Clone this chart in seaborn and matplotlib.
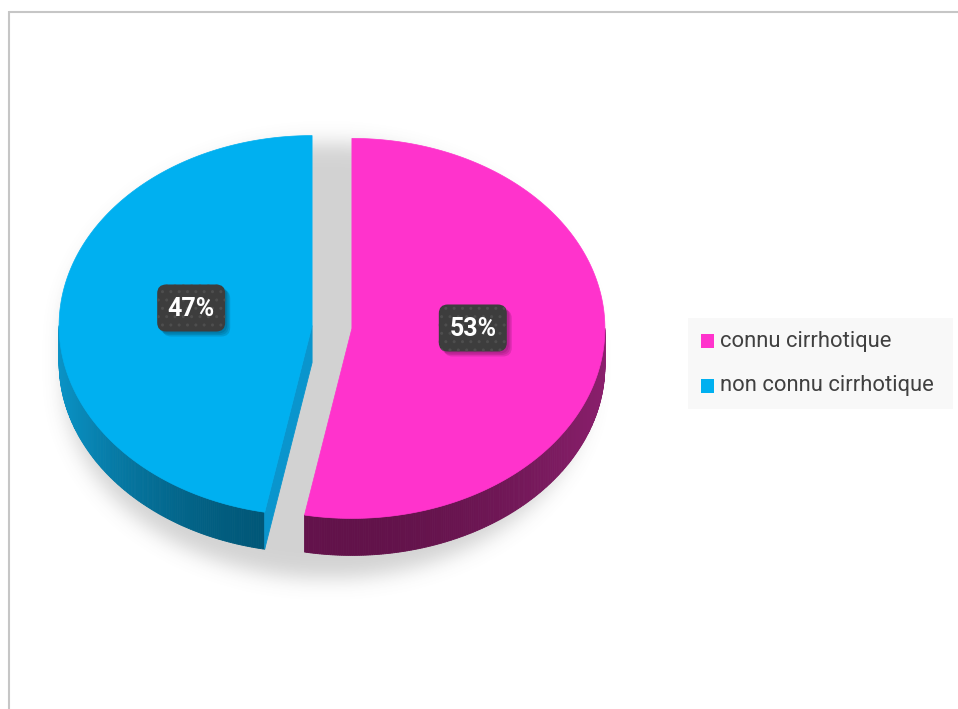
import numpy as np
import matplotlib
matplotlib.use("Agg")
import matplotlib.pyplot as plt
from matplotlib.patches import Polygon, Rectangle, FancyBboxPatch
import seaborn as sns

# ---- data ----
categories = ["connu cirrhotique", "non connu cirrhotique"]
values = [53, 47]
value_labels = ["53%", "47%"]
top_colors = ["#ff33cc", "#00b0f0"]
# wall shading: (light end, dark end) for each slice
wall_colors = [("#8a1f6c", "#62124a"), ("#0a93c6", "#005575")]
cut_colors = ["#7a1a60", "#0a95cd"]

sns.set_theme(style="white")
plt.rcParams['font.family'] = ['Roboto', 'DejaVu Sans']

W, H = 958, 709
fig = plt.figure(figsize=(W / 100, H / 100), dpi=100)
ax = fig.add_axes([0, 0, 1, 1])
ax.set_xlim(0, W)
ax.set_ylim(H, 0)
ax.axis('off')

# pie geometry (pixel units, y grows downward)
CX0, CY0 = 332, 327
A, B = 253, 190
DEPTH = 37
EXPLODE = 20
START = 90.0


def proj(cx, cy, theta, z=0.0):
    t = np.deg2rad(theta)
    return cx + A * np.cos(t), cy - B * np.sin(t) + z


total = float(sum(values))
cum = np.concatenate([[0], np.cumsum(values)]) / total * 360.0
slices = []
for i, v in enumerate(values):
    t1 = START - cum[i]          # clockwise from 12 o'clock
    t2 = START - cum[i + 1]
    mid = 0.5 * (t1 + t2)
    m = np.deg2rad(mid)
    cx = CX0 + EXPLODE * np.cos(m)
    cy = CY0 - EXPLODE * (B / A) * np.sin(m)
    slices.append(dict(t1=t1, t2=t2, mid=mid, cx=cx, cy=cy))

# ---- soft shadow behind the pie ----
yy, xx = np.mgrid[0:H, 0:W].astype(float)
scx, scy, sa, sb, sd = 326, 338, 262, 196, 44
dy = yy - scy
dy = np.where(dy > sd, dy - sd, np.where(dy > 0, 0.0, dy))
foot = (((xx - scx) / sa) ** 2 + (dy / sb) ** 2 <= 1.0).astype(float)
sig = 10.0
k = np.arange(-3 * sig, 3 * sig + 1)
kern = np.exp(-0.5 * (k / sig) ** 2)
kern /= kern.sum()
blur = np.array([np.convolve(r, kern, mode='same') for r in foot])
blur = np.array([np.convolve(c, kern, mode='same') for c in blur.T]).T
shadow = np.zeros((H, W, 4))
shadow[..., :3] = 0.42
shadow[..., 3] = blur * 0.30
ax.imshow(shadow, extent=[0, W, H, 0], origin='upper', zorder=1, interpolation='bilinear')


def lerp_color(c1, c2, f):
    a1 = np.array(matplotlib.colors.to_rgb(c1))
    a2 = np.array(matplotlib.colors.to_rgb(c2))
    return tuple(a1 + (a2 - a1) * f)


# ---- side walls ----
for i, s in enumerate(slices):
    lo, hi = s['t2'], s['t1']
    # visible (front) half: angles between -180 and 0
    vlo, vhi = max(lo, -180.0), min(hi, 0.0)
    if lo < -180:
        vlo2, vhi2 = lo + 360, min(hi + 360, 0.0)
    light, dark = wall_colors[i]
    ranges = [(vlo, vhi)]
    for (a0, a1) in ranges:
        if a1 <= a0:
            continue
        steps = np.linspace(a0, a1, int((a1 - a0) * 2) + 2)
        for j in range(len(steps) - 1):
            th0, th1 = steps[j], steps[j + 1]
            xa, ya = proj(s['cx'], s['cy'], th0)
            xb, yb = proj(s['cx'], s['cy'], th1)
            tm = 0.5 * (th0 + th1)
            # lighter toward the sides, darker toward the front-bottom
            f = np.clip(1 - abs(np.sin(np.deg2rad(tm))) ** 2, 0, 1)
            col = lerp_color(dark, light, f)
            ax.add_patch(Polygon([(xa, ya), (xb, yb), (xb, yb + DEPTH), (xa, ya + DEPTH)],
                                 closed=True, facecolor=col, edgecolor=col, lw=0.6, zorder=2))
    # cut face at the clockwise-leading radius, visible when it faces the viewer
    th = s['t1']
    nrm = np.deg2rad(th + 90)
    if np.sin(nrm) < 0:
        xr, yr = proj(s['cx'], s['cy'], th)
        ax.add_patch(Polygon([(s['cx'], s['cy']), (xr, yr), (xr, yr + DEPTH), (s['cx'], s['cy'] + DEPTH)],
                             closed=True, facecolor=cut_colors[i], edgecolor=cut_colors[i], lw=0.6, zorder=2.5))

# ---- top faces ----
for i, s in enumerate(slices):
    th = np.linspace(s['t1'], s['t2'], 300)
    xs, ys = proj(s['cx'], s['cy'], th)
    pts = np.column_stack([np.r_[s['cx'], xs], np.r_[s['cy'], ys]])
    ax.add_patch(Polygon(pts, closed=True, facecolor=top_colors[i], edgecolor=top_colors[i],
                         lw=0.5, zorder=3))

# ---- value labels ----
BW, BH = 68, 47
for i, s in enumerate(slices):
    lx, ly = proj(s['cx'], s['cy'], s['mid'])
    lx = s['cx'] + (lx - s['cx']) * 0.48
    ly = s['cy'] + (ly - s['cy']) * 0.48 - 9
    for k2, al in enumerate([0.10, 0.10, 0.12]):
        off = 2 + k2 * 1.5
        ax.add_patch(FancyBboxPatch((lx - BW / 2 + off, ly - BH / 2 + off), BW, BH,
                                    boxstyle="round,pad=0,rounding_size=9",
                                    facecolor='black', edgecolor='none', alpha=al, zorder=4))
    ax.add_patch(FancyBboxPatch((lx - BW / 2, ly - BH / 2), BW, BH,
                                boxstyle="round,pad=0,rounding_size=9",
                                facecolor='#3d3d3d', edgecolor='none', lw=0, zorder=5))
    ax.add_patch(FancyBboxPatch((lx - BW / 2, ly - BH / 2), BW, BH,
                                boxstyle="round,pad=0,rounding_size=9",
                                facecolor='none', edgecolor='#4e4e4e', hatch='..', lw=0, zorder=5.5))
    ax.text(lx, ly + 1, value_labels[i], color='white', fontsize=18, fontweight='bold',
            ha='center', va='center', zorder=6)

# ---- legend ----
ax.add_patch(Rectangle((688, 318), 265, 91, facecolor='#f8f8f8', edgecolor='none', zorder=2))
for i, name in enumerate(categories):
    yc = 341 + i * 45
    ax.add_patch(Rectangle((701, yc - 7), 13.5, 13.5, facecolor=top_colors[i],
                           edgecolor='none', zorder=3))
    ax.text(720, yc, name, color='#404040', fontsize=15.8, ha='left', va='center', zorder=3)

# ---- chart border ----
ax.plot([9, W], [11.5, 11.5], color='#c6c6c6', lw=1.5, solid_capstyle='butt', zorder=10)
ax.plot([9.5, 9.5], [11, H], color='#c6c6c6', lw=1.5, solid_capstyle='butt', zorder=10)

fig.savefig("out.png", dpi=100)
